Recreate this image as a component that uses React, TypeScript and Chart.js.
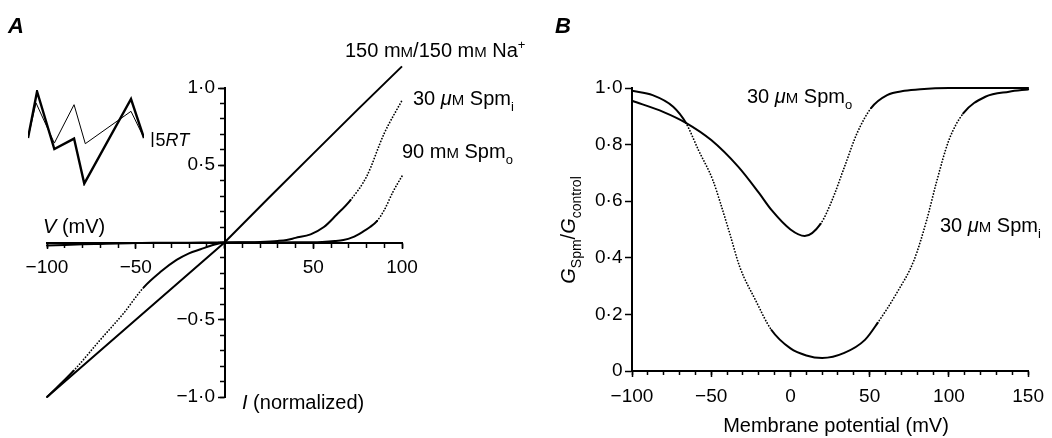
import React, { useEffect, useRef } from 'react';
import { Chart, registerables } from 'chart.js';
Chart.register(...registerables);

const FONT = '"Liberation Sans", Arial, Helvetica, sans-serif';

// ---------- Panel A : normalized I–V relations ----------
const naV = [-100, -50, 0, 25, 50, 75, 100];
const naI = [-1.0, -0.5, 0, 0.29, 0.575, 0.86, 1.14];

const spmInV = [-100, -85, -70, -57, -45.5, -36, -27, -20, -13.5, -6, 0, 10, 20, 30, 35, 40, 48.5, 56, 63, 71, 80, 90, 100];
const spmInI = [-1.0, -0.83, -0.63, -0.46, -0.29, -0.19, -0.113, -0.07, -0.044, -0.015, 0, 0.001, 0.004, 0.01, 0.016, 0.03, 0.053, 0.1, 0.178, 0.275, 0.426, 0.707, 0.92];

const spmOutV = [-100, -90, -80, -70, -60, -50, -40, -20, 0, 20, 40, 55, 62, 67, 72, 78, 82, 86, 90, 95, 100];
const spmOutI = [-0.02, -0.016, -0.012, -0.009, -0.006, -0.004, -0.002, -0.001, 0, 0.0005, 0.001, 0.004, 0.009, 0.016, 0.033, 0.07, 0.1, 0.14, 0.21, 0.33, 0.43];

// ---------- Inset : energy profiles (RT units vs electrical distance) ----------
const profThickX = [0, 0.078, 0.227, 0.397, 0.485, 0.888, 1.0];
const profThickY = [0, 15.5, -3.7, -0.2, -15.2, 13, 0];
const profThinX = [0, 0.069, 0.227, 0.397, 0.494, 0.888, 1.0];
const profThinY = [0, 11.7, -1.7, 11.1, -1.9, 8.9, 0];

// ---------- Panel B : G_Spm / G_control vs membrane potential ----------
const gInV = [-100, -87, -74, -66, -58, -49, -44, -38, -32, -22, -12, 0, 10, 20, 34, 47, 55, 67, 78, 86, 92, 100, 109, 123, 138, 150];
const gInG = [0.99, 0.975, 0.934, 0.877, 0.78, 0.675, 0.59, 0.48, 0.368, 0.25, 0.145, 0.08, 0.055, 0.046, 0.064, 0.11, 0.17, 0.275, 0.392, 0.534, 0.664, 0.816, 0.91, 0.969, 0.987, 0.995];

const gOutV = [-100, -80, -66, -50, -33, -20, -12, 0, 9, 19, 26, 34, 42, 51, 61, 72, 82, 100, 150];
const gOutG = [0.955, 0.915, 0.877, 0.816, 0.722, 0.63, 0.569, 0.5, 0.477, 0.52, 0.6, 0.72, 0.84, 0.93, 0.975, 0.99, 0.996, 1.0, 1.0];

type Run = { t: string; it?: boolean; b?: boolean; sc?: number; dy?: number };
type Label = { runs: Run[]; x: number; y: number; size: number; align?: 'left' | 'center' | 'right'; rot?: number };

const mM: Run[] = [{ t: 'm' }, { t: 'M', sc: 0.75 }];
const uM: Run[] = [{ t: 'μ', it: true }, { t: 'M', sc: 0.75 }];

const labelsA: Label[] = [
  { runs: [{ t: 'A', it: true, b: true }], x: 8, y: 33, size: 22 },
  { runs: [{ t: '150 ' }, ...mM, { t: '/150 ' }, ...mM, { t: ' Na' }, { t: '+', sc: 0.65, dy: -0.42 }], x: 345, y: 57, size: 20 },
  { runs: [{ t: '30 ' }, ...uM, { t: ' Spm' }, { t: 'i', sc: 0.65, dy: 0.28 }], x: 413, y: 105, size: 20 },
  { runs: [{ t: '90 ' }, ...mM, { t: ' Spm' }, { t: 'o', sc: 0.65, dy: 0.28 }], x: 402, y: 158, size: 20 },
  { runs: [{ t: 'V', it: true }, { t: ' (mV)' }], x: 43, y: 233, size: 20 },
  { runs: [{ t: 'I', it: true }, { t: ' (normalized)' }], x: 242, y: 409, size: 20 },
];

const B_LEFT = 530;
const labelsB: Label[] = [
  { runs: [{ t: 'B', it: true, b: true }], x: 555 - B_LEFT, y: 33, size: 22 },
  { runs: [{ t: '30 ' }, ...uM, { t: ' Spm' }, { t: 'o', sc: 0.65, dy: 0.28 }], x: 747 - B_LEFT, y: 103, size: 20 },
  { runs: [{ t: '30 ' }, ...uM, { t: ' Spm' }, { t: 'i', sc: 0.65, dy: 0.28 }], x: 940 - B_LEFT, y: 232, size: 20 },
  { runs: [{ t: 'Membrane potential (mV)' }], x: 836 - B_LEFT, y: 432, size: 20, align: 'center' },
  {
    runs: [{ t: 'G', it: true }, { t: 'Spm', sc: 0.7, dy: 0.28 }, { t: '/' }, { t: 'G', it: true }, { t: 'control', sc: 0.7, dy: 0.28 }],
    x: 575 - B_LEFT, y: 230, size: 20, align: 'center', rot: -Math.PI / 2,
  },
];

function drawRich(ctx: CanvasRenderingContext2D, lab: Label) {
  const fonts = lab.runs.map(r => `${r.it ? 'italic ' : ''}${r.b ? 'bold ' : ''}${(lab.size * (r.sc ?? 1)).toFixed(2)}px ${FONT}`);
  let w = 0;
  lab.runs.forEach((r, i) => { ctx.font = fonts[i]; w += ctx.measureText(r.t).width; });
  ctx.save();
  ctx.translate(lab.x, lab.y);
  if (lab.rot) ctx.rotate(lab.rot);
  let cx = lab.align === 'center' ? -w / 2 : lab.align === 'right' ? -w : 0;
  ctx.fillStyle = '#000';
  ctx.textBaseline = 'alphabetic';
  ctx.textAlign = 'left';
  lab.runs.forEach((r, i) => {
    ctx.font = fonts[i];
    ctx.fillText(r.t, cx, (r.dy ?? 0) * lab.size);
    cx += ctx.measureText(r.t).width;
  });
  ctx.restore();
}

const labelPlugin = (labels: Label[], extra?: (chart: any) => void) => ({
  id: 'richLabels',
  afterDraw(chart: any) {
    labels.forEach(l => drawRich(chart.ctx, l));
    if (extra) extra(chart);
  },
});

const zeroSize = (s: any) => { if (s.isHorizontal()) s.height = 0; else s.width = 0; };
const tickFont = { family: FONT, size: 19 };
const minus = (v: number) => (v < 0 ? '\u2212' : '');
const fmtInt = (v: number) => minus(v) + Math.abs(v);
const fmtDot = (v: number) => (Math.abs(v) < 1e-9 ? '0' : minus(v) + Math.abs(v).toFixed(1).replace('.', '\u00b7'));

const steep = (thr: number) => (c: any) => Math.abs(c.p1.y - c.p0.y) > thr * Math.abs(c.p1.x - c.p0.x);
const dottedSeg = (thr: number) => ({
  borderDash: (c: any) => (steep(thr)(c) ? [0.01, 3] : undefined),
  borderWidth: (c: any) => (steep(thr)(c) ? 1.8 : 2),
});

const pts = (xs: number[], ys: number[]) => xs.map((x, i) => ({ x, y: ys[i] }));

function axis(id: 'x' | 'y', min: number, max: number, step: number, tickLen: number, pos: any, labels: ((v: number) => string) | null, border: boolean, pad = 4) {
  return {
    type: 'linear', axis: id, min, max, position: pos, afterFit: zeroSize,
    ticks: labels
      ? { stepSize: step, autoSkip: false, maxRotation: 0, color: '#000', font: tickFont, padding: pad, callback: (v: any) => labels(Number(v)) }
      : { stepSize: step, display: false, autoSkip: false },
    grid: { drawOnChartArea: false, tickLength: tickLen, tickWidth: 1.5, tickColor: '#000' },
    border: { display: border, color: '#000', width: 2 },
  };
}

const baseOpts = (padding: any, scales: any) => ({
  responsive: false,
  maintainAspectRatio: false,
  animation: false,
  events: [],
  layout: { padding },
  plugins: { legend: { display: false }, tooltip: { enabled: false } },
  scales,
});

export default function App() {
  const refA = useRef<HTMLCanvasElement>(null);
  const refB = useRef<HTMLCanvasElement>(null);
  const refI = useRef<HTMLCanvasElement>(null);

  useEffect(() => {
    const charts: Chart[] = [];

    charts.push(new Chart(refA.current!, {
      type: 'line',
      data: {
        datasets: [
          { data: pts(naV, naI), borderColor: '#000', borderWidth: 2, pointRadius: 0, tension: 0, clip: false } as any,
          { data: pts(spmInV, spmInI), borderColor: '#000', borderWidth: 2, pointRadius: 0, cubicInterpolationMode: 'monotone', borderCapStyle: 'round', segment: dottedSeg(1.1), clip: false } as any,
          { data: pts(spmOutV, spmOutI), borderColor: '#000', borderWidth: 2, pointRadius: 0, cubicInterpolationMode: 'monotone', borderCapStyle: 'round', segment: dottedSeg(1.4), clip: false } as any,
        ],
      },
      options: baseOpts({ left: 47, right: 128, top: 88, bottom: 41 }, {
        x: axis('x', -100, 100, 10, 4, { y: 0 }, null, true),
        x2: axis('x', -100, 100, 50, 6, { y: 0 }, v => (v === 0 ? '' : fmtInt(v)), false, 8),
        y: axis('y', -1, 1, 0.1, 4, { x: 0 }, null, true),
        y2: axis('y', -1, 1, 0.5, 7, { x: 0 }, v => (Math.abs(v) < 1e-9 ? '' : fmtDot(v) + '\u2002'), false, 4),
      }) as any,
      plugins: [labelPlugin(labelsA)],
    }));

    charts.push(new Chart(refB.current!, {
      type: 'line',
      data: {
        datasets: [
          { data: pts(gInV, gInG), borderColor: '#000', borderWidth: 2, pointRadius: 0, cubicInterpolationMode: 'monotone', borderCapStyle: 'round', segment: dottedSeg(1.4), clip: false } as any,
          { data: pts(gOutV, gOutG), borderColor: '#000', borderWidth: 2, pointRadius: 0, cubicInterpolationMode: 'monotone', borderCapStyle: 'round', segment: dottedSeg(1.4), clip: false } as any,
        ],
      },
      options: baseOpts({ left: 102, right: 19, top: 88, bottom: 67 }, {
        x: axis('x', -100, 150, 10, 3, { y: 0 }, null, true),
        x2: axis('x', -100, 150, 50, 6, { y: 0 }, fmtInt, false, 8),
        y: axis('y', 0, 1, 0.2, 6, { x: -100 }, v => fmtDot(v) + '\u2002', true, 3),
      }) as any,
      plugins: [labelPlugin(labelsB)],
    }));

    charts.push(new Chart(refI.current!, {
      type: 'line',
      data: {
        datasets: [
          { data: pts(profThickX, profThickY), borderColor: '#000', borderWidth: 2.4, pointRadius: 0, tension: 0, borderJoinStyle: 'miter' } as any,
          { data: pts(profThinX, profThinY), borderColor: '#000', borderWidth: 1, pointRadius: 0, tension: 0 } as any,
        ],
      },
      options: baseOpts({ left: 8, right: 56, top: 10, bottom: 9 }, {
        x: { type: 'linear', min: 0, max: 1, display: false },
        y: { type: 'linear', min: -16, max: 16, display: false },
      }) as any,
      plugins: [labelPlugin([], (chart: any) => {
        const ctx = chart.ctx as CanvasRenderingContext2D;
        const ys = chart.scales.y;
        const bx = chart.chartArea.right + 8.5;
        ctx.save();
        ctx.strokeStyle = '#000';
        ctx.lineWidth = 1.5;
        ctx.beginPath();
        ctx.moveTo(bx, ys.getPixelForValue(2));
        ctx.lineTo(bx, ys.getPixelForValue(-3));
        ctx.stroke();
        ctx.restore();
        drawRich(ctx, { runs: [{ t: '5' }, { t: 'RT', it: true }], x: bx + 3, y: ys.getPixelForValue(-2.6), size: 18 });
      })],
    }));

    return () => charts.forEach(c => c.destroy());
  }, []);

  return (
    <div style={{ position: 'fixed', left: 0, top: 0, width: 1052, height: 438, background: '#fff' }}>
      <canvas ref={refA} width={530} height={438} style={{ position: 'absolute', left: 0, top: 0, width: 530, height: 438 }} />
      <canvas ref={refB} width={522} height={438} style={{ position: 'absolute', left: B_LEFT, top: 0, width: 522, height: 438 }} />
      <canvas ref={refI} width={180} height={115} style={{ position: 'absolute', left: 20, top: 80, width: 180, height: 115 }} />
    </div>
  );
}
